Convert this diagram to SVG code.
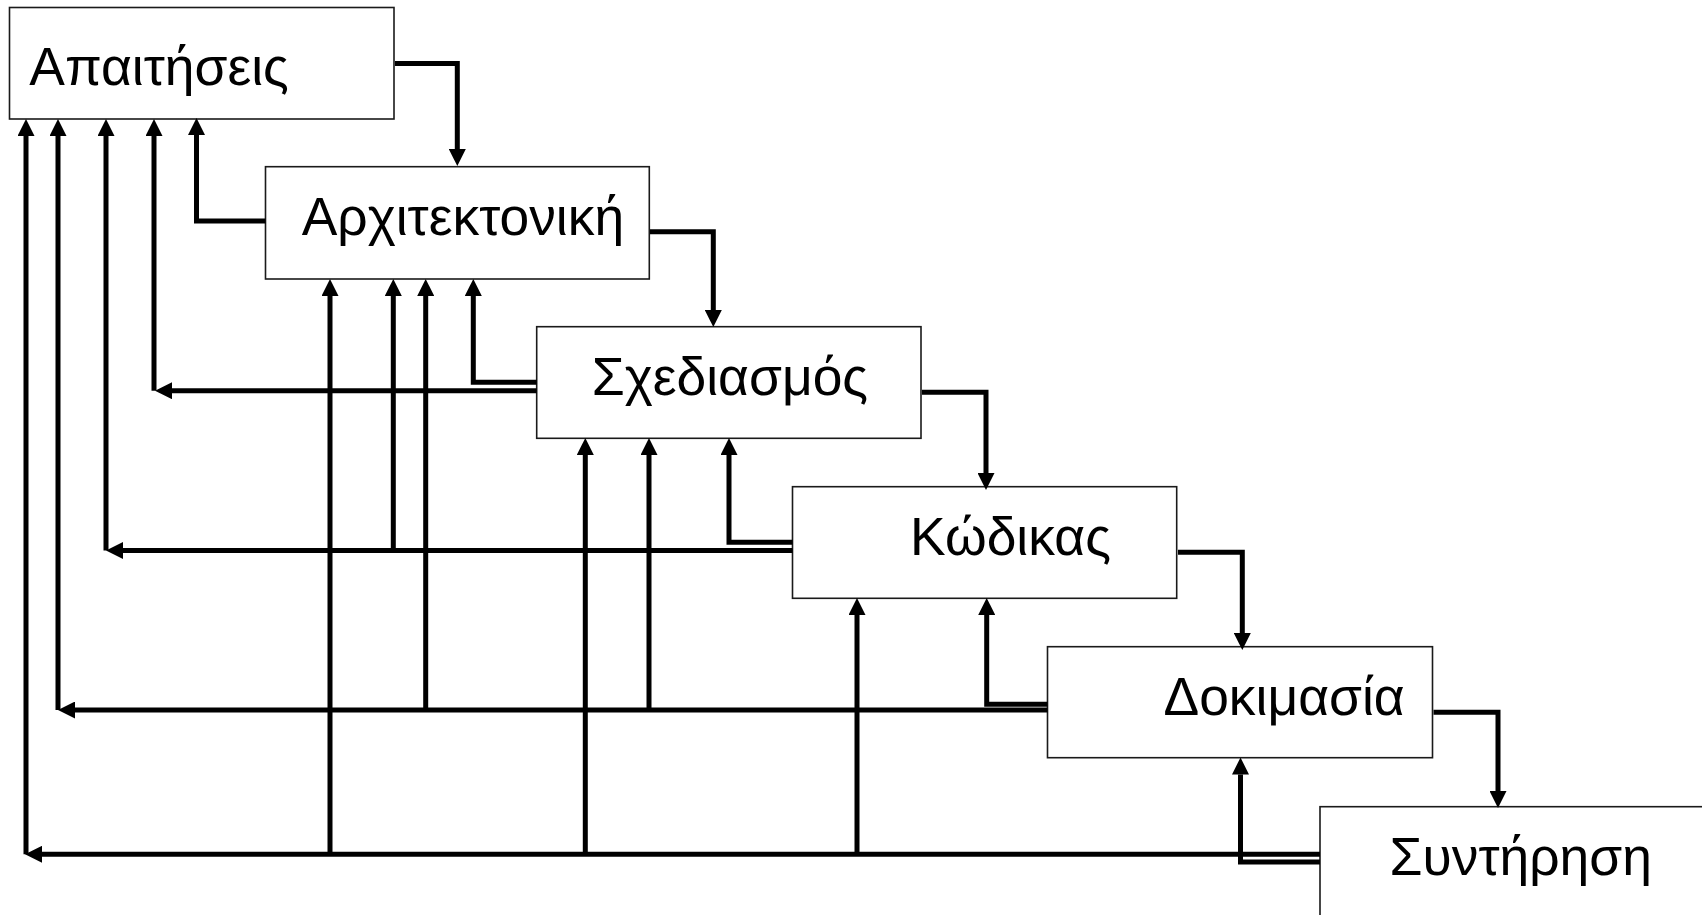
<svg xmlns="http://www.w3.org/2000/svg" width="1702" height="915" viewBox="0 0 1702 915">
<style>
.box{fill:#fff;stroke:#1a1a1a;stroke-width:1.6}
.lbl{font-family:"Liberation Sans",Arial,sans-serif;font-size:53.4px;fill:#000}
.a{fill:none;stroke:#000;stroke-width:5;stroke-linejoin:miter;marker-end:url(#ah)}
</style>
<defs>
<marker id="ah" markerUnits="userSpaceOnUse" viewBox="0 0 17 17" markerWidth="17" markerHeight="17" refX="0" refY="8.5" orient="auto">
<path d="M0,0 L17,8.5 L0,17 z" fill="#000"/>
</marker>
</defs>
<g id="n1"><rect class="box" x="9.5" y="7.5" width="384.5" height="111.5"/><text class="lbl" x="29.3" y="85">Απαιτήσεις</text></g>
<g id="n2"><rect class="box" x="265.5" y="166.7" width="383.8" height="112.3"/><text class="lbl" x="301.7" y="235">Αρχιτεκτονική</text></g>
<g id="n3"><rect class="box" x="536.7" y="326.7" width="384.3" height="111.6"/><text class="lbl" x="591.7" y="395">Σχεδιασμός</text></g>
<g id="n4"><rect class="box" x="792.5" y="486.7" width="384.2" height="111.6"/><text class="lbl" x="910" y="555">Κώδικας</text></g>
<g id="n5"><rect class="box" x="1047.5" y="646.7" width="385" height="111"/><text class="lbl" x="1163.5" y="715">Δοκιμασία</text></g>
<g id="n6"><rect class="box" x="1320" y="806.7" width="400" height="130"/><text class="lbl" x="1389.5" y="875">Συντήρηση</text></g>
<g id="connectors">
<path class="a" d="M395,63.5 H457.3 V149"/>
<path class="a" d="M650,231.7 H713.3 V310"/>
<path class="a" d="M922,392.3 H986 V473"/>
<path class="a" d="M1178,552.3 H1242.3 V633"/>
<path class="a" d="M1433.5,712.3 H1498 V791"/>
<path class="a" d="M265.5,221 H196.5 V135"/>
<path class="a" d="M536.7,382.3 H473.3 V296"/>
<path class="a" d="M536.7,390.7 H172"/>
<path class="a" d="M154,390.7 V136"/>
<path class="a" d="M792.5,542.3 H729 V455"/>
<path class="a" d="M792.5,550.5 H123"/>
<path class="a" d="M106,550.5 V136"/>
<path class="a" d="M393.3,550.5 V296"/>
<path class="a" d="M1047.5,704.3 H986.7 V615"/>
<path class="a" d="M1047.5,710 H75"/>
<path class="a" d="M58,710 V136"/>
<path class="a" d="M425.7,710 V296"/>
<path class="a" d="M649,710 V455"/>
<path class="a" d="M1320,862 H1240.5 V774.5"/>
<path class="a" d="M1320,854.3 H42"/>
<path class="a" d="M26,854.3 V136"/>
<path class="a" d="M330,854.3 V296"/>
<path class="a" d="M585.3,854.3 V455"/>
<path class="a" d="M857,854.3 V615"/>
</g>
</svg>
